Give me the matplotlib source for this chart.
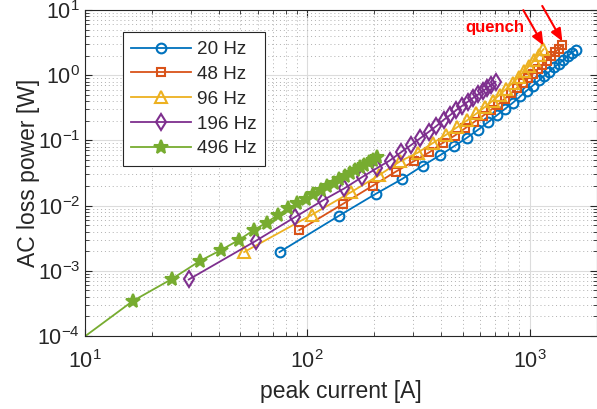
import matplotlib
matplotlib.use("Agg")
import matplotlib.pyplot as plt
from matplotlib.ticker import LogLocator, LogFormatterMathtext, NullFormatter

# ---------------- data ----------------
labels = ["20 Hz", "48 Hz", "96 Hz", "196 Hz", "496 Hz"]

I_20 = [75, 139, 203, 267, 331, 395, 459, 523, 587, 651, 715, 779, 843, 907,
        971, 1035, 1099, 1163, 1227, 1291, 1355, 1419, 1483, 1547, 1611]
P_20 = [1.94e-3, 7.0e-3, 0.0151, 0.0256, 0.041, 0.059, 0.082, 0.110, 0.146,
        0.191, 0.245, 0.308, 0.381, 0.473, 0.58, 0.695, 0.83, 0.98, 1.13,
        1.32, 1.51, 1.71, 1.97, 2.2, 2.45]

I_48 = [92, 144.5, 197, 249.5, 302, 354.5, 407, 459.5, 512, 564.5, 617, 669.5,
        722, 774.5, 827, 879.5, 932, 984.5, 1037, 1089.5, 1142, 1194.5, 1247,
        1299.5, 1352, 1404.5]
P_48 = [4.2e-3, 0.0106, 0.0202, 0.033, 0.048, 0.066, 0.092, 0.118, 0.153,
        0.193, 0.238, 0.293, 0.355, 0.438, 0.53, 0.64, 0.76, 0.90, 1.06, 1.24,
        1.45, 1.68, 1.94, 2.23, 2.55, 2.9]

I_96 = [52, 104.5, 157, 209.5, 262, 314.5, 367, 419.5, 472, 524.5, 577, 629.5,
        682, 734.5, 787, 839.5, 892, 944.5, 997, 1049.5, 1102, 1154.5]
P_96 = [1.94e-3, 7.2e-3, 0.016, 0.029, 0.048, 0.065, 0.091, 0.121, 0.159,
        0.204, 0.259, 0.325, 0.405, 0.50, 0.62, 0.76, 0.93, 1.14, 1.39, 1.69,
        2.05, 2.5]

I_196 = [29.3, 58.6, 87.9, 117.2, 146.5, 175.8, 205.1, 234.4, 263.7, 293.0,
         322.3, 351.6, 380.9, 410.2, 439.5, 468.8, 498.1, 527.4, 556.7, 586.0,
         615.3, 644.6, 673.9, 703.2]
P_196 = [7.36e-4, 2.87e-3, 6.64e-3, 0.01197, 0.0183, 0.0272, 0.0373, 0.0489,
         0.0656, 0.0849, 0.108, 0.135, 0.166, 0.206, 0.245, 0.293, 0.340,
         0.392, 0.447, 0.506, 0.569, 0.637, 0.713, 0.794]

I_496 = [8.2, 16.4, 24.6, 32.8, 41.0, 49.2, 57.4, 65.6, 73.8, 82.0, 90.2, 98.4,
         106.6, 114.8, 123.0, 131.2, 139.4, 147.6, 155.8, 164.0, 172.2, 180.4,
         188.6, 196.8, 205.0]
P_496 = [6.0e-5, 3.44e-4, 7.5e-4, 1.41e-3, 2.09e-3, 2.97e-3, 4.2e-3, 5.5e-3,
         7.2e-3, 9.1e-3, 0.0108, 0.0128, 0.0150, 0.0174, 0.0199, 0.0226,
         0.0255, 0.0286, 0.0318, 0.0352, 0.0387, 0.0425, 0.0465, 0.0505, 0.0548]

x_limits = (10, 2000)
y_limits = (1e-4, 10)
x_label = "peak current [A]"
y_label = "AC loss power [W]"
annotation_text = "quench"

# ---------------- styling ----------------
plt.rcParams["font.family"] = ["Liberation Sans", "DejaVu Sans"]
plt.rcParams["mathtext.default"] = "regular"

colors = ["#0072BD", "#D95319", "#EDB120", "#7E2F8E", "#77AC30"]
markers = ["o", "s", "^", "d", "*"]
msizes = [7, 6, 8, 8, 10]
faces = ["none", "none", "none", "none", "#77AC30"]
series = [(I_20, P_20), (I_48, P_48), (I_96, P_96), (I_196, P_196), (I_496, P_496)]

W, H = 597, 409
fig = plt.figure(figsize=(W / 100, H / 100), dpi=100)
ax = fig.add_axes([85 / W, 1 - 336 / H, (596.5 - 85) / W, (336 - 10) / H])

for (xs, ys), c, m, ms, fc, lab in zip(series, colors, markers, msizes, faces, labels):
    ax.plot(xs, ys, color=c, marker=m, markersize=ms, markerfacecolor=fc,
            markeredgewidth=1.5, linewidth=1.3, label=lab)

ax.set_xscale("log")
ax.set_yscale("log")
ax.set_xlim(*x_limits)
ax.set_ylim(*y_limits)

ax.xaxis.set_major_locator(LogLocator(base=10, numticks=10))
ax.yaxis.set_major_locator(LogLocator(base=10, numticks=10))
ax.xaxis.set_minor_locator(LogLocator(base=10, subs=range(2, 10), numticks=20))
ax.yaxis.set_minor_locator(LogLocator(base=10, subs=range(2, 10), numticks=20))
ax.xaxis.set_major_formatter(LogFormatterMathtext())
ax.yaxis.set_major_formatter(LogFormatterMathtext())
ax.xaxis.set_minor_formatter(NullFormatter())
ax.yaxis.set_minor_formatter(NullFormatter())

ax.grid(True, which="major", color="#dcdcdc", linestyle="-", linewidth=0.8)
ax.grid(True, which="minor", color="#b0b0b0", linestyle=(0, (1, 3)), linewidth=0.7)
ax.set_axisbelow(True)

ax.tick_params(which="both", direction="in", top=True, right=True,
               colors="#262626", labelsize=15.5)
ax.tick_params(which="major", length=5, width=0.8)
ax.tick_params(which="minor", length=3, width=0.6)
ax.tick_params(axis="x", pad=10)
for s in ax.spines.values():
    s.set_color("#262626")
    s.set_linewidth(0.8)

ax.set_xlabel(x_label, fontsize=16.5, color="#262626", labelpad=5)
ax.set_ylabel(y_label, fontsize=16.5, color="#262626", labelpad=-2)

leg = ax.legend(loc="upper left", bbox_to_anchor=((122.5 - 85) / (596.5 - 85), 1 - (32.5 - 10) / 326),
                fontsize=13.6, frameon=True, fancybox=False, framealpha=1,
                edgecolor="#262626", handlelength=3.2, handletextpad=0.3,
                labelspacing=0.4, borderpad=0.45, borderaxespad=0)
leg.get_frame().set_linewidth(0.8)
for t in leg.get_texts():
    t.set_color("#262626")

# quench annotations at the last point of 96 Hz and 48 Hz
for xs, ys in [(I_96, P_96), (I_48, P_48)]:
    ax.annotate("", xy=(xs[-1], ys[-1] * 1.14), xytext=(-14.5, 25.5),
                textcoords="offset points", annotation_clip=False,
                arrowprops=dict(arrowstyle="-|>,head_length=0.75,head_width=0.32",
                                color="#ff0000", lw=1.5, shrinkA=0, shrinkB=0))
ax.annotate(annotation_text, xy=(I_96[-1], P_96[-1]), xytext=(-35, 15.5),
            textcoords="offset points", color="#ff0000", fontsize=12,
            fontweight="bold", ha="center", va="center")

fig.savefig("out.png", dpi=100)
